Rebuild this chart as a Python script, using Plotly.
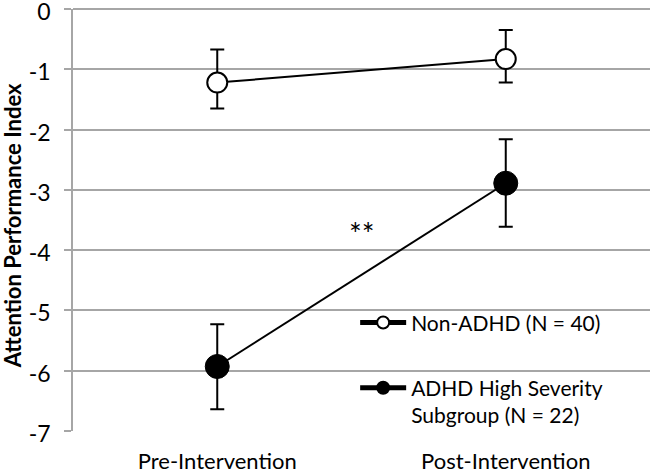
import plotly.graph_objects as go

categories = ["Pre-Intervention", "Post-Intervention"]
non_adhd = [-1.22, -0.83]
non_adhd_err_up = [0.55, 0.48]
non_adhd_err_down = [0.43, 0.39]
adhd = [-5.93, -2.89]
adhd_err_up = [0.70, 0.73]
adhd_err_down = [0.71, 0.72]
y_ticks = [0, -1, -2, -3, -4, -5, -6, -7]

FONT = "Lato"
GRID = "#a6a6a6"
L, T, B = 73, 9, 42
PW = 650 - L
fig = go.Figure()
fig.add_trace(go.Scatter(
    x=categories, y=non_adhd, mode="lines+markers", name="Non-ADHD (N = 40)",
    legendgroup="a",
    line=dict(color="black", width=2),
    marker=dict(symbol="circle", size=20, color="white", line=dict(color="black", width=2)),
    error_y=dict(type="data", array=non_adhd_err_up, arrayminus=non_adhd_err_down,
                 color="black", thickness=2, width=7),
))
fig.add_trace(go.Scatter(
    x=categories, y=adhd, mode="lines+markers", name="ADHD High Severity<br>Subgroup (N = 22)",
    legendgroup="b",
    line=dict(color="black", width=2),
    marker=dict(symbol="circle", size=24, color="black", line=dict(color="black", width=1)),
    error_y=dict(type="data", array=adhd_err_up, arrayminus=adhd_err_down,
                 color="black", thickness=2, width=7),
))
fig.add_annotation(x=0.5, y=-3.72, xref="x", yref="y", text="**", showarrow=False,
                   font=dict(family=FONT, size=30, color="black"))
fig.add_annotation(x=-(L - 12) / PW, y=0.485, xref="paper", yref="paper",
                   text="<b>Attention Performance Index</b>", textangle=-90,
                   showarrow=False, xanchor="center", yanchor="middle",
                   font=dict(family=FONT, size=22, color="black"))

fig.update_layout(
    width=650, height=473,
    margin=dict(l=L, r=0, t=T, b=B, autoexpand=False),
    plot_bgcolor="white", paper_bgcolor="white",
    font=dict(family=FONT, size=21, color="black"),
    showlegend=True,
    legend=dict(x=0.489, y=0.305, xanchor="left", yanchor="top",
                bgcolor="rgba(0,0,0,0)", font=dict(family=FONT, size=21, color="black"),
                tracegroupgap=35, itemwidth=46, valign="top", itemsizing="constant"),
)
fig.update_xaxes(range=[-0.5, 1.5], showgrid=False, showline=False,
                 ticks="outside", ticklen=11, tickcolor="rgba(0,0,0,0)",
                 automargin=False,
                 tickfont=dict(family=FONT, size=22, color="black"))
fig.update_yaxes(range=[-7, 0], tickvals=y_ticks, ticktext=[str(v) for v in y_ticks],
                 showgrid=True, gridcolor=GRID, gridwidth=1.5,
                 showline=True, linecolor=GRID, linewidth=1.5,
                 ticks="outside", ticklen=7, tickcolor=GRID, tickwidth=1.5,
                 zeroline=True, zerolinecolor=GRID, zerolinewidth=1.5,
                 ticklabelstandoff=9, ticklabelshift=3, ticklabeloverflow="allow",
                 automargin=False,
                 tickfont=dict(family=FONT, size=23, color="black"))
fig.write_html("out.html", config={"displayModeBar": False},
               post_script="document.body.style.margin='0';")
